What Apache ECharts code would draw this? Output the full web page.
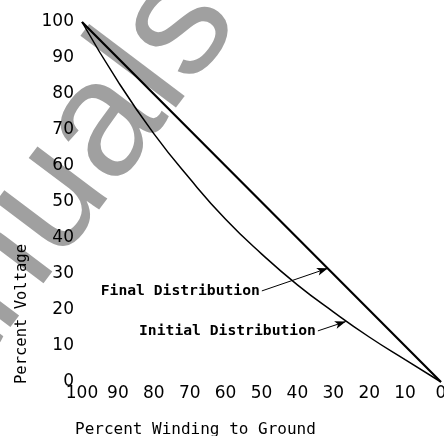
<!DOCTYPE html>
<html><head><meta charset="utf-8">
<script src="https://cdn.jsdelivr.net/npm/echarts@6/dist/echarts.min.js"></script>
<style>html,body{margin:0;padding:0;background:#fff}#c{width:444px;height:436px}</style>
</head><body><div id="c"></div>
<script>
// Percent winding to ground (x) and percent voltage (y)
const windingToGround = [100, 90, 80, 70, 60, 50, 40, 30, 20, 10, 0];
const finalDistribution = [100, 90, 80, 70, 60, 50, 40, 30, 20, 10, 0];
const initialDistribution = [100, 83.5, 69, 56.5, 45.2, 35.6, 27, 19.5, 12.5, 6.2, 0];

const xAxisTitle = 'Percent Winding to Ground';
const yAxisTitle = 'Percent Voltage';
const finalLabel = 'Final Distribution';
const initialLabel = 'Initial Distribution';
// annotation arrows in data units [winding %, voltage %]
const finalArrowFrom = [49.9, 25.3];
const finalArrowTo = [31.5, 31.6];
const initialArrowFrom = [34.3, 14.2];
const initialArrowTo = [26.5, 16.8];
const watermarkText = 'Manuals';

const chart = echarts.init(document.getElementById('c'), null, {renderer: 'canvas'});
const pair = (xs, ys) => xs.map((x, i) => [x, ys[i]]);
const labelFont = '"DejaVu Sans", sans-serif';
const monoFont = '"DejaVu Sans Mono", monospace';

function annotation(from, to, text) {
  return {
    markLine: {
      silent: true,
      symbol: ['none', 'arrow'],
      symbolSize: [6, 11],
      lineStyle: {color: '#000', width: 1, type: 'solid'},
      label: {show: false},
      data: [[{coord: from}, {coord: to}]]
    },
    markPoint: {
      silent: true,
      symbol: 'circle',
      symbolSize: 0,
      data: [{coord: from}],
      label: {
        show: true, position: 'left', distance: 2,
        formatter: text, color: '#000',
        fontFamily: monoFont, fontWeight: 'bold', fontSize: 14.7
      }
    }
  };
}

chart.setOption({
  animation: false,
  backgroundColor: '#fff',
  grid: {left: 82, right: 3, top: 22, bottom: 54, containLabel: false, outerBoundsMode: 'none'},
  xAxis: {
    type: 'value', inverse: true, min: 0, max: 100, interval: 10,
    axisLine: {show: false}, axisTick: {show: false}, splitLine: {show: false},
    axisLabel: {color: '#000', fontSize: 17, fontFamily: labelFont, margin: 3, showMinLabel: true, showMaxLabel: true}
  },
  yAxis: {
    type: 'value', min: 0, max: 100, interval: 10,
    axisLine: {show: false}, axisTick: {show: false}, splitLine: {show: false},
    axisLabel: {color: '#000', fontSize: 17, fontFamily: labelFont, margin: 8}
  },
  graphic: [
    {
      type: 'text', z: -10, silent: true,
      x: 17, y: 243, rotation: 0.925,
      style: {text: watermarkText, font: '165px "Liberation Sans", Arial, sans-serif',
              fill: '#a0a0a0', textAlign: 'center', textVerticalAlign: 'middle'}
    },
    {
      type: 'text', x: 75, y: 430,
      style: {text: xAxisTitle, font: '16px ' + monoFont, fill: '#000',
              textAlign: 'left', textVerticalAlign: 'middle'}
    },
    {
      type: 'text', x: 22, y: 314, rotation: Math.PI / 2,
      style: {text: yAxisTitle, font: '15.5px ' + monoFont, fill: '#000',
              textAlign: 'center', textVerticalAlign: 'middle'}
    }
  ],
  series: [
    Object.assign({
      name: finalLabel, type: 'line', data: pair(windingToGround, finalDistribution),
      showSymbol: false, symbol: 'none', smooth: false,
      lineStyle: {color: '#000', width: 2.2}, z: 3
    }, annotation(finalArrowFrom, finalArrowTo, finalLabel)),
    Object.assign({
      name: initialLabel, type: 'line', data: pair(windingToGround, initialDistribution),
      showSymbol: false, symbol: 'none', smooth: true,
      lineStyle: {color: '#000', width: 1.5}, z: 3
    }, annotation(initialArrowFrom, initialArrowTo, initialLabel))
  ]
});
</script>
</body></html>
